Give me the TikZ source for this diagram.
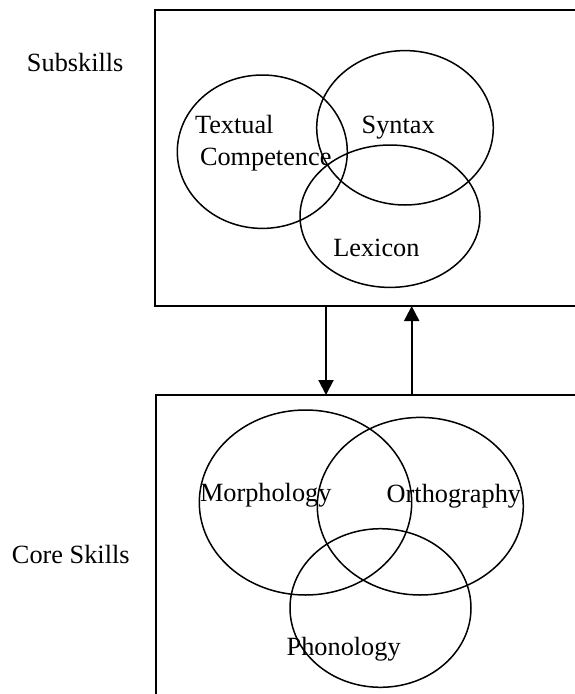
\documentclass[tikz,border=0pt]{standalone}
\usepackage{fontspec}
\setmainfont{Liberation Serif}
\usetikzlibrary{arrows.meta,shapes.geometric}
\tikzset{
  box/.style={draw, line width=2pt, rectangle, inner sep=0pt, outer sep=0pt},
  ell/.style={draw, line width=1.5pt, ellipse, inner sep=0pt, outer sep=0pt},
  lbl/.style={inner sep=0pt, outer sep=0pt, anchor=base west, font=\fontsize{26.3}{30}\selectfont},
  arr/.style={line width=2pt, -{Triangle[width=15pt,length=15pt]}}
}
\begin{document}
\begin{tikzpicture}[x=1pt,y=-1pt]
\useasboundingbox (0,0) rectangle (575,694);
% boxes
\node[box, minimum width=430pt, minimum height=296pt] (top) at (370,158) {};
\node[box, minimum width=430pt, minimum height=315pt] (bot) at (370.5,552.5) {};
% side labels
\node[lbl] (sub) at (27,71.7) {Subskills};
\node[lbl] (core) at (12,563.3) {Core Skills};
% top ellipses
\node[ell, minimum width=170pt, minimum height=153.4pt] (tc) at (262.3,151.7) {};
\node[ell, minimum width=176.6pt, minimum height=154.4pt] (sy) at (405,127.8) {};
\node[ell, minimum width=180pt, minimum height=142.4pt] (lx) at (390,216.2) {};
\node[lbl] (t1) at (195,133) {Textual};
\node[lbl] (t2) at (200,165) {Competence};
\node[lbl] (t3) at (361.7,133.3) {Syntax};
\node[lbl] (t4) at (333.3,256.7) {Lexicon};
% bottom ellipses
\node[ell, minimum width=212.4pt, minimum height=185pt] (mo) at (305.5,502.5) {};
\node[ell, minimum width=206pt, minimum height=177.6pt] (or) at (420.3,506.2) {};
\node[ell, minimum width=181pt, minimum height=158.6pt] (ph) at (380.5,608) {};
\node[lbl] (b1) at (200,501.7) {Morphology};
\node[lbl] (b2) at (386.7,502) {Orthography};
\node[lbl] (b3) at (286.7,655) {Phonology};
% arrows
\coordinate (xd) at (326,0);
\coordinate (xu) at (411.7,0);
\draw[arr] (top.south -| xd) -- (bot.north -| xd);
\draw[arr] (bot.north -| xu) -- (top.south -| xu);
\end{tikzpicture}
\end{document}
